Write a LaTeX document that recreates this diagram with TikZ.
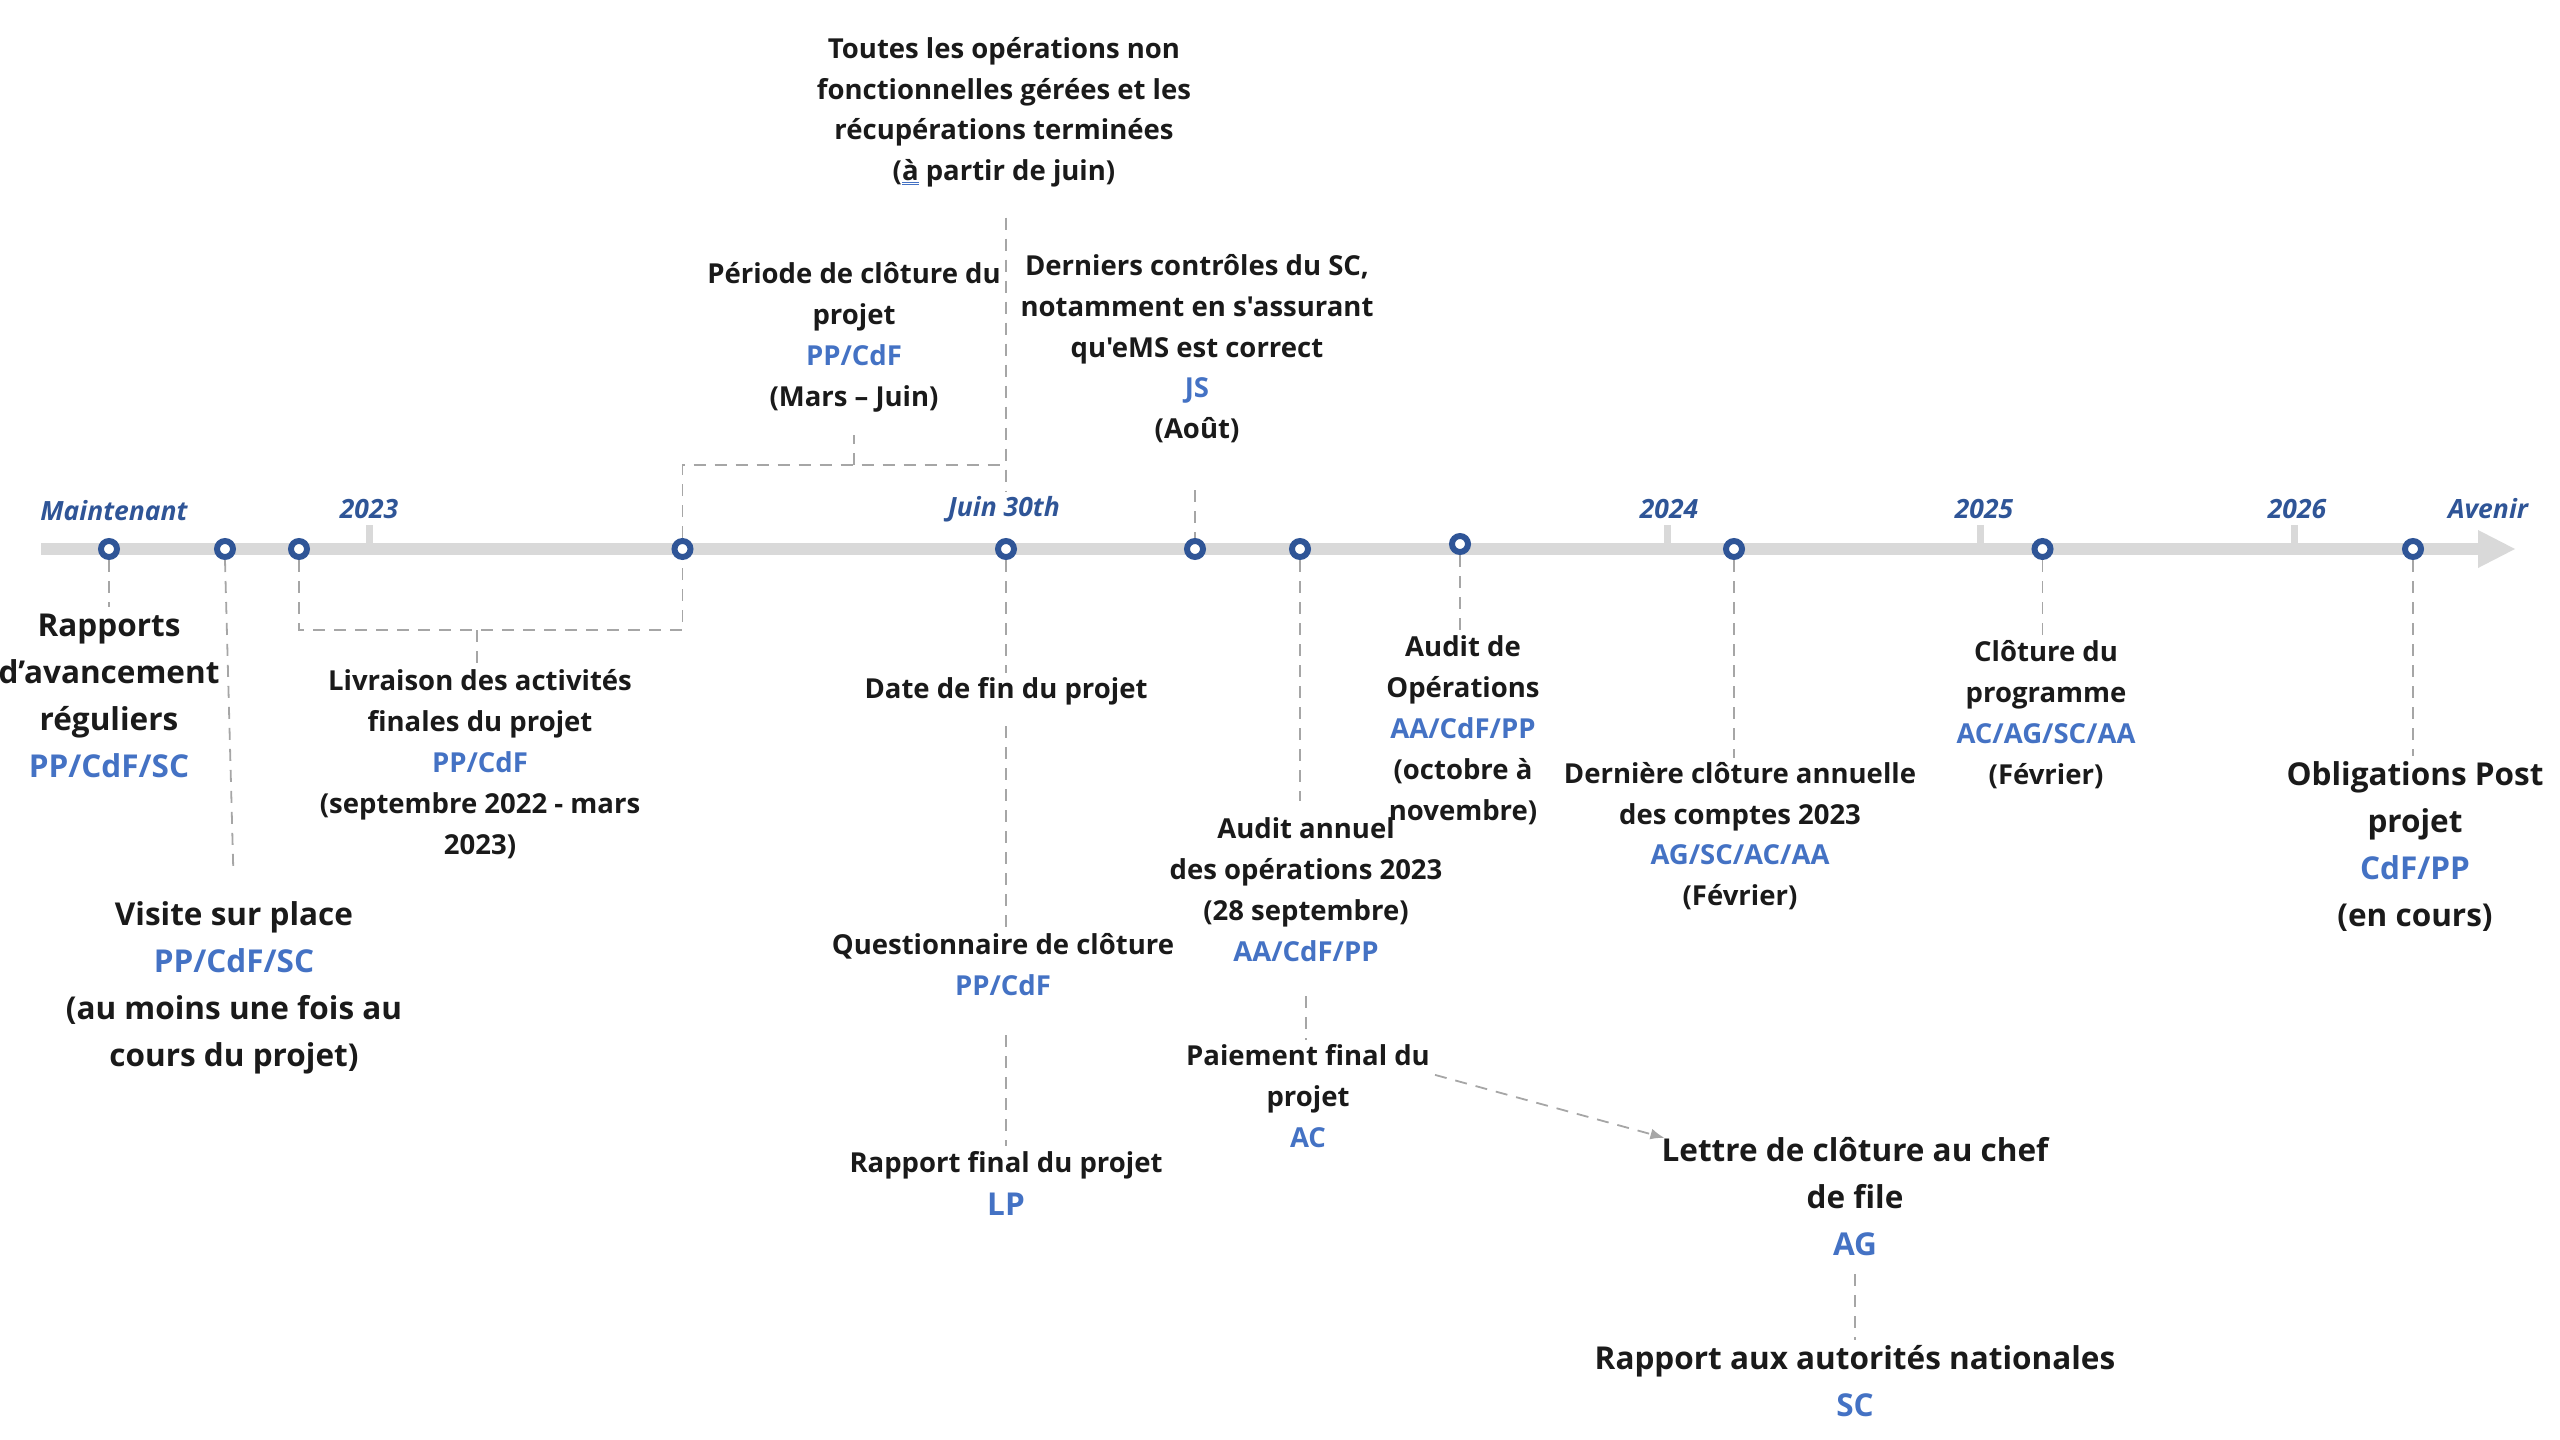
\documentclass[tikz,border=0pt]{standalone}
\usepackage{fontspec}
\setmainfont{Open Sans}[Ligatures=TeXOff]
\usetikzlibrary{arrows.meta}
\definecolor{axblue}{HTML}{2F5597}
\definecolor{roleblue}{HTML}{4472C4}
\definecolor{barg}{HTML}{D9D9D9}
\definecolor{dashg}{HTML}{A6A6A6}
\definecolor{txt}{HTML}{1A1A1A}
\newcommand\ps{\vphantom{Ég}}
\newcommand\rl[1]{\textcolor{roleblue}{#1}}
\begin{document}
\begin{tikzpicture}[x=1pt,y=-1pt,
  sm/.style={align=center,inner sep=0pt,text=txt,font=\fontsize{27.5}{40.8}\selectfont\bfseries},
  lg/.style={align=center,inner sep=0pt,text=txt,font=\fontsize{31.5}{47}\selectfont\bfseries},
  axl/.style={inner sep=0pt,text=axblue,font=\fontsize{26.5}{30}\selectfont\bfseries\itshape},
  mk/.style={circle,draw=axblue,line width=4pt,fill=white,minimum size=18pt,inner sep=0pt},
  dsh/.style={draw=dashg,line width=1.8pt,dash pattern=on 12pt off 9pt},
  tk/.style={fill=barg,draw=none}]
\useasboundingbox (0,0) rectangle (2560,1440);
% axis
\fill[barg] (41,543) rectangle (2480,555);
\fill[barg] (2478,530) -- (2515,549) -- (2478,568) -- cycle;
\foreach \x in {369,1667,1980,2294}{\fill[barg] (\x-3.5,525) rectangle (\x+3.5,545);}
% axis labels
\node[axl] (lmain) at (114,511) {Maintenant};
\node[axl] (l23) at (369,509) {2023};
\node[axl] (ljuin) at (1004,509) {Juin 30th};
\node[axl] (l24) at (1669,509) {2024};
\node[axl] (l25) at (1984,509) {2025};
\node[axl] (l26) at (2297,509) {2026};
\node[axl] (lav) at (2488,509) {Avenir};
% texts
\node[lg] (t1) at (109,696) {\ps Rapports\\d’avancement\\réguliers\\\rl{PP/CdF/SC}\ps};
\node[lg] (t2) at (234,985) {\ps Visite sur place\\\rl{PP/CdF/SC}\\(au moins une fois au\\cours du projet)\ps};
\node[sm] (t3) at (480,763) {\ps Livraison des activités\\finales du projet\\\rl{PP/CdF}\\(septembre 2022 - mars\\2023)\ps};
\node[sm] (t4) at (854,335.5) {\ps Période de clôture du\\projet\\\rl{PP/CdF}\\(Mars – Juin)\ps};
\node[sm] (t5) at (1004,110) {\ps Toutes les opérations non\\fonctionnelles gérées et les\\récupérations terminées\\(\textcolor{roleblue}{\underline{\underline{\textcolor{txt}{à}}}} partir de juin)\ps};
\node[sm] (t6) at (1197,347.5) {\ps Derniers contrôles du SC,\\notamment en s'assurant\\qu'eMS est correct\\\rl{JS}\\(Août)\ps};
\node[sm] (t7) at (1006,689) {\ps Date de fin du projet\ps};
\node[sm] (t8) at (1003,965.5) {\ps Questionnaire de clôture\\\rl{PP/CdF}\ps};
\node[sm] (t9) at (1006,1185) {\ps Rapport final du projet\\[3pt]{\fontsize{31.5}{47}\selectfont\rl{LP}\ps}};
\node[sm] (t10) at (1306,890.5) {\ps Audit annuel\\des opérations 2023\\(28 septembre)\\\rl{AA/CdF/PP}\ps};
\node[sm] (t11) at (1308,1097) {\ps Paiement final du\\projet\\\rl{AC}\ps};
\node[sm] (t12) at (1463,729) {\ps Audit de\\Opérations\\\rl{AA/CdF/PP}\\(octobre à\\novembre)\ps};
\node[sm] (t13) at (1740,835) {\ps Dernière clôture annuelle\\des comptes 2023\\\rl{AG/SC/AC/AA}\\(Février)\ps};
\node[sm] (t14) at (2046,713.5) {\ps Clôture du\\programme\\\rl{AC/AG/SC/AA}\\(Février)\ps};
\node[lg] (t15) at (2415,845) {\ps Obligations Post\\projet\\\rl{CdF/PP}\\(en cours)\ps};
\node[lg] (t16) at (1855,1197.5) {\ps Lettre de clôture au chef\\de file\\\rl{AG}\ps};
\node[lg] (t17) at (1855,1382) {\ps Rapport aux autorités nationales\\\rl{SC}\ps};
% connectors
\coordinate (lb) at (477,630);
\coordinate (ub) at (854,465);
\coordinate (ubR) at (1006,465);
\node[mk] (c1) at (109,549) {};
\node[mk] (c2) at (225,549) {};
\node[mk] (c3) at (299,549) {};
\node[mk] (c4) at (682.5,549) {};
\node[mk] (c5) at (1006,549) {};
\node[mk] (c6) at (1195,549) {};
\node[mk] (c7) at (1300,549) {};
\node[mk] (c8) at (1460,544) {};
\node[mk] (c9) at (1734,549) {};
\node[mk] (c10) at (2042.5,549) {};
\node[mk] (c11) at (2413,549) {};
\draw[dsh] (c1.south) -- (c1.south |- t1.north);
\draw[dsh,shorten >=22pt] (c2.south) -- (t2.north);
\draw[dsh] (c3.south) -- (c3.south |- lb) -| (c4.south);
\draw[dsh] (lb) -- (lb |- t3.north);
\draw[dsh] (c4.north) |- (ubR);
\draw[dsh,shorten >=22pt] (ub) -- (ub |- t4.south);
\draw[dsh,shorten <=30pt,shorten >=4pt] (c5.north |- t5.south) -- (c5.north |- ljuin.north);
\draw[dsh,shorten <=45pt] (c6.north |- t6.south) -- (c6.north);
\draw[dsh] (c5.south) -- (c5.south |- t7.north);
\draw[dsh,shorten <=21pt] (c5.south |- t7.south) -- (c5.south |- t8.north);
\draw[dsh,shorten <=33pt] (c5.south |- t8.south) -- (c5.south |- t9.north);
\draw[dsh,shorten >=12pt] (c7.south) -- (c7.south |- t10.north);
\draw[dsh,shorten <=28pt] (t10.south) -- (t10.south |- t11.north);
\draw[dsh] (c8.south) -- (c8.south |- t12.north);
\draw[dsh] (c9.south) -- (c9.south |- t13.north);
\draw[dsh] (c10.south) -- (c10.south |- t14.north);
\draw[dsh] (c11.south) -- (c11.south |- t15.north);
\draw[dsh,shorten <=11pt] (t16.south) -- (t17.north);
\draw[dsh,-{Latex[length=14pt,width=11pt]}] ([shift={(5,35)}]t11.north east) -- ([shift={(3,6)}]t16.north west);
% circles on top of connectors
\foreach \c in {c1,c2,c3,c4,c5,c6,c7,c8,c9,c10,c11}{\draw[axblue,line width=4pt,fill=white] (\c) circle (7pt);}
\end{tikzpicture}
\end{document}
